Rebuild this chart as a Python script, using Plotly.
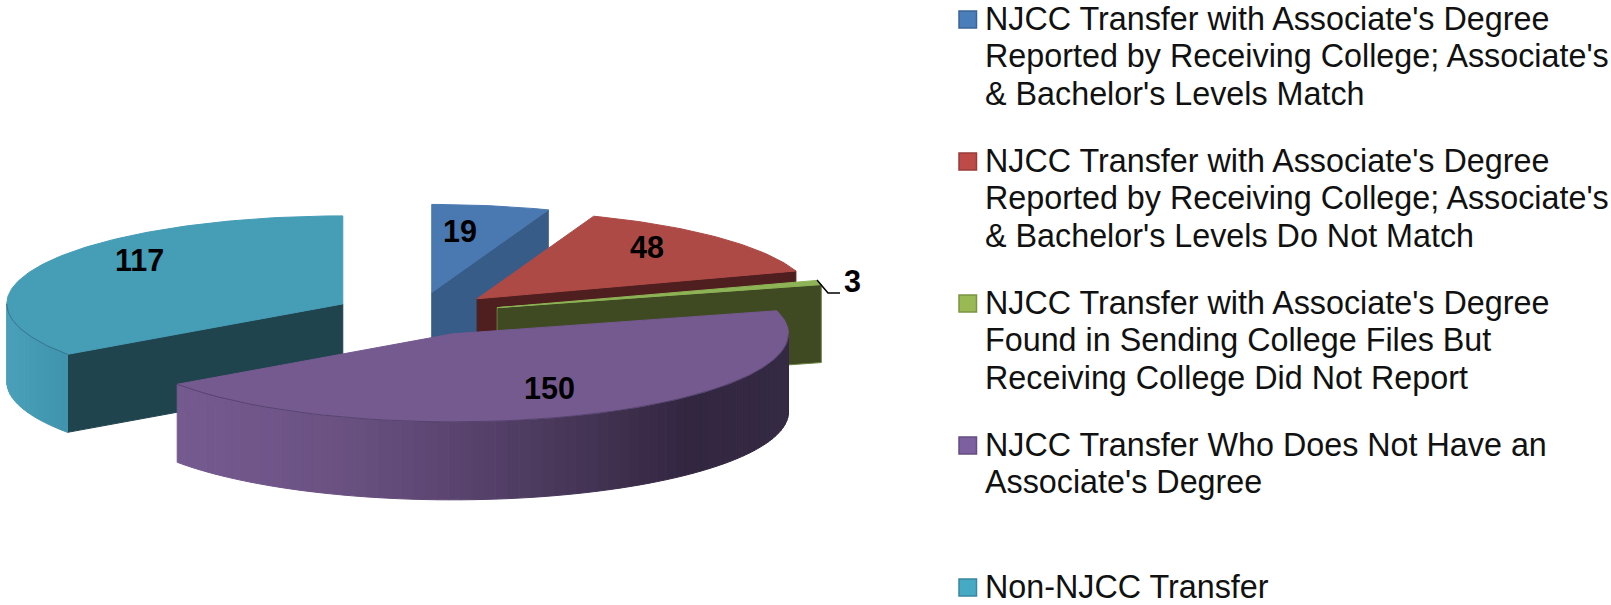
import math
import plotly.graph_objects as go

# ---- data -------------------------------------------------------------
values = [19, 48, 3, 150, 117]
value_labels = ["19", "48", "3", "150", "117"]
legend_entries = [
    ["NJCC Transfer with Associate's Degree", "Reported by Receiving College; Associate's", "& Bachelor's Levels Match"],
    ["NJCC Transfer with Associate's Degree", "Reported by Receiving College; Associate's", "& Bachelor's Levels Do Not Match"],
    ["NJCC Transfer with Associate's Degree", "Found in Sending College Files But", "Receiving College Did Not Report"],
    ["NJCC Transfer Who Does Not Have an", "Associate's Degree"],
    ["Non-NJCC Transfer"],
]
top_colors = ["#4a78b0", "#ae4a46", "#8db356", "#755a90", "#459db6"]
cut_colors = ["#375c88", "#4f1e1e", "#404a22", "#322640", "#1f444e"]
swatch_fill = ["#4a7ebb", "#be4b48", "#98b954", "#7d60a0", "#46aac5"]
swatch_line = ["#3a6496", "#983c3a", "#7a9443", "#644d80", "#38889e"]

# ---- projection of the tilted, exploded pie (pixels on a 1611x605 axis) -
CX, CY = 417, 314
A, B, H = 336, 88, 78
EXPLODE = 0.249
W, HT = 1611, 605


def lerp_hex(stops, x):
    if x <= stops[0][0]:
        return stops[0][1]
    for (x0, c0), (x1, c1) in zip(stops, stops[1:]):
        if x <= x1:
            t = (x - x0) / (x1 - x0)
            r = [round(int(c0[i:i + 2], 16) * (1 - t) + int(c1[i:i + 2], 16) * t) for i in (1, 3, 5)]
            return "#%02x%02x%02x" % tuple(r)
    return stops[-1][1]


purple_side = [(178, "#755a90"), (330, "#6b5283"), (450, "#5b4570"), (600, "#423252"),
               (690, "#322640"), (789, "#352a44")]
teal_side = [(7, "#4aa0b9"), (68, "#3f93ac")]
side_stops = {3: purple_side, 4: teal_side}

fig = go.Figure()


def poly(xs, ys, fill, line=None, lw=1):
    fig.add_trace(go.Scatter(x=list(xs) + [xs[0]], y=list(ys) + [ys[0]], mode="lines", fill="toself",
                             fillcolor=fill, line=dict(color=line or fill, width=lw),
                             hoverinfo="skip", showlegend=False))


total = sum(values)
angle = 0.0
slices = []
for i, v in enumerate(values):
    a0, a1 = angle, angle + 360.0 * v / total
    angle = a1
    mid = math.radians((a0 + a1) / 2)
    ax = CX + EXPLODE * A * math.sin(mid)
    ay = CY - EXPLODE * B * math.cos(mid)
    slices.append((i, a0, a1, ax, ay))


def pt(ax, ay, deg):
    r = math.radians(deg)
    return ax + A * math.sin(r), ay - B * math.cos(r)


# back-to-front: teal, blue, red, green, purple
for i, a0, a1, ax, ay in [slices[4], slices[0], slices[1], slices[2], slices[3]]:
    # cut faces that look towards the viewer
    if i in (0, 1, 2):
        px, py = pt(ax, ay, a1)
        poly([ax, px, px, ax], [ay, py, py + H, ay + H], cut_colors[i],
             line="#6a8040" if i == 2 else None)
    if i == 4:
        px, py = pt(ax, ay, a0)
        poly([ax, px, px, ax], [ay, py, py + H, ay + H], cut_colors[i])
    # outer rim, drawn as shaded strips
    if i in side_stops:
        lo, hi = max(a0, 90), min(a1, 270)
        n = max(2, int((hi - lo) / 2))
        for k in range(n):
            d0 = lo + (hi - lo) * k / n
            d1 = lo + (hi - lo) * (k + 1) / n
            x0, y0 = pt(ax, ay, d0)
            x1, y1 = pt(ax, ay, d1)
            poly([x0, x1, x1, x0], [y0, y1, y1 + H, y0 + H],
                 lerp_hex(side_stops[i], (x0 + x1) / 2))
    # top face
    n = max(8, int(a1 - a0))
    arc = [pt(ax, ay, a0 + (a1 - a0) * k / n) for k in range(n + 1)]
    poly([ax] + [p[0] for p in arc], [ay] + [p[1] for p in arc], top_colors[i])
    # fine seam where the top face meets the rim
    if i in side_stops:
        lo, hi = max(a0, 90), min(a1, 270)
        seam = [pt(ax, ay, lo + (hi - lo) * k / 40) for k in range(41)]
        fig.add_trace(go.Scatter(x=[p[0] for p in seam], y=[p[1] for p in seam], mode="lines",
                                 line=dict(color="rgba(20,20,40,0.3)", width=1),
                                 hoverinfo="skip", showlegend=False))

# leader line for the smallest slice
LEADER_X = [817, 828, 840]
LEADER_Y = [280, 293, 293]
fig.add_trace(go.Scatter(x=LEADER_X, y=LEADER_Y, mode="lines", line=dict(color="#000000", width=1.5),
                         hoverinfo="skip", showlegend=False))

annotations = []
LABEL_POS = [(460, 231), (647, 247), (852, 281), (549, 388), (139, 260)]
for text, (lx, ly) in zip(value_labels, LABEL_POS):
    annotations.append(dict(x=lx, y=ly, text="<b>%s</b>" % text, showarrow=False, xref="x", yref="y",
                            xanchor="center", yanchor="middle",
                            font=dict(family="Liberation Sans", size=30.5, color="#000000")))

# legend, laid out by hand because its rows sit on an even 142 px pitch
LEG_TEXT_X, LEG_TOP, LEG_PITCH, LEG_LINE = 982.5, 19, 142, 37.3
shapes = []
for r, lines in enumerate(legend_entries):
    y0 = LEG_TOP + r * LEG_PITCH
    shapes.append(dict(type="rect", xref="x", yref="y", x0=959, x1=976.5, y0=y0 - 8, y1=y0 + 9,
                       fillcolor=swatch_fill[r], line=dict(color=swatch_line[r], width=1.5)))
    for j, ln in enumerate(lines):
        annotations.append(dict(x=LEG_TEXT_X, y=y0 + j * LEG_LINE, text=ln, showarrow=False, xref="x", yref="y",
                                xanchor="left", yanchor="middle",
                                font=dict(family="Liberation Sans", size=32.3, color="#111111")))

fig.update_layout(
    width=W, height=HT, autosize=False, margin=dict(l=0, r=0, t=0, b=0),
    paper_bgcolor="#ffffff", plot_bgcolor="#ffffff", showlegend=False,
    xaxis=dict(range=[0, W], visible=False, fixedrange=True),
    yaxis=dict(range=[HT, 0], visible=False, fixedrange=True),
    shapes=shapes, annotations=annotations,
)
fig.write_html("out.html", config={"displayModeBar": False},
               post_script="document.body.style.margin='0';document.body.style.overflow='hidden';")
